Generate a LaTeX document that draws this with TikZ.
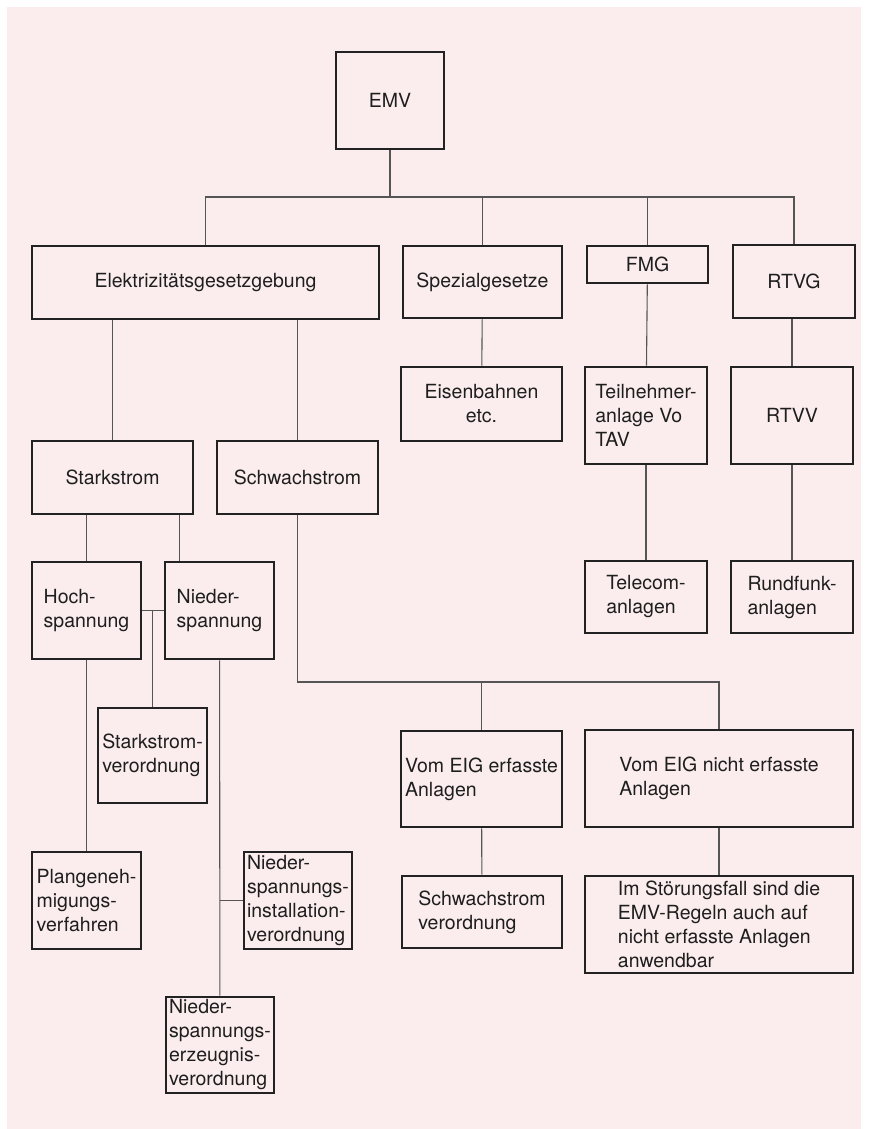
\documentclass[tikz,border=0pt]{standalone}
\usepackage{fontspec}
\setmainfont{TeX Gyre Heros}
\definecolor{boxline}{HTML}{222222}
\definecolor{linegray}{HTML}{555555}
\definecolor{txt}{HTML}{1E1E1E}
\definecolor{paper}{HTML}{FBEDED}

\begin{document}
\begin{tikzpicture}[x=1pt, y=-1pt]
			\tikzset{block/.style={draw=boxline, line width=2.6pt, rectangle, align=center, inner sep=0pt, text=txt, font=\fontsize{19.5}{24}\selectfont},
        lblock/.style={block, align=left},
        wh/.style 2 args={minimum width=#1pt, minimum height=#2pt},
        conn/.style={draw=linegray, line width=1.1pt},
        }

			\useasboundingbox (0,0) rectangle (869,1129);
			\fill[paper] (7,7) rectangle (861,1129);

			% top level
			\node [block, wh={108}{97}] (emv) at (390,100.5) {EMV};
			\node [block, wh={347}{73}] (elektr) at (205.5,282.5) {Elektrizitätsgesetzgebung};
			\node [block, wh={159}{72}] (spezial) at (482.5,282) {Spezialgesetze};
			\node [block, wh={121}{37}] (fmg) at (647.5,264.5) {FMG};
			\node [block, wh={122}{73}] (rtvg) at (794,281.5) {RTVG};

			% second row, right side
			\node [block, wh={161}{74}] (eisenbahn) at (481.5,404) {Eisenbahnen\\etc.};
			\node [lblock, wh={122}{97}] (teilnehmer) at (646,415.5) {Teilnehmer-\\anlage Vo\\TAV};
			\node [block, wh={122}{97}] (rtvv) at (792,415.5) {RTVV};
			\node [lblock, wh={122}{72}] (telecom) at (646,597) {Telecom-\\anlagen};
			\node [lblock, wh={122}{72}] (rundfunk) at (792,597) {Rundfunk-\\anlagen};

			% Elektrizitaet
			\node [block, wh={161}{73}] (stark) at (112.5,477.5) {Starkstrom};
			\node [block, wh={161}{73}] (schwach) at (297.5,477.5) {Schwachstrom};
			\node [lblock, wh={109}{97}] (hoch) at (86.5,610.5) {Hoch-\\spannung};
			\node [lblock, wh={109}{97}] (nieder) at (219.5,610.5) {Nieder-\\spannung};
			\node [lblock, wh={109}{95}] (skv) at (152.5,755.5) {Starkstrom-\\verordnung};
			\node [lblock, wh={109}{97}] (plan) at (86.5,900.5) {Plangeneh-\\migungs-\\verfahren};
			\node [lblock, wh={108}{97}] (nsiv) at (298,900.5) {Nieder-\\spannungs-\\installation-\\verordnung};
			\node [lblock, wh={108}{96}] (nsev) at (220,1045) {Nieder-\\spannungs-\\erzeugnis-\\verordnung};

			% Schwachstrom
			\node [lblock, wh={161}{96}] (vom) at (481.5,779) {Vom EIG erfasste\\Anlagen};
			\node [lblock, wh={268}{97}] (nicht) at (719,778.5) {Vom EIG nicht erfasste\\Anlagen};
			\node [lblock, wh={160}{72}] (swv) at (482,912) {Schwachstrom\\verordnung};
			\node [lblock, wh={268}{97}] (stoer) at (719,924.5) {Im Störungsfall sind die\\EMV-Regeln auch auf\\nicht erfasste Anlagen\\anwendbar};

			\coordinate (bus) at (390,197);
			\coordinate (sbus) at (297.5,682);

			\path[conn] (emv.south) -- (bus) -| (elektr.north);
			\path[conn] (bus) -| (spezial.north);
			\path[conn] (bus) -| (fmg.north);
			\path[conn] (bus) -| (rtvg.north);

			\path[conn] (spezial) edge (eisenbahn);
			\path[conn] (fmg) edge (teilnehmer);
			\path[conn] (rtvv.north |- rtvg.south) -- (rtvv.north);
			\path[conn] (teilnehmer) edge (telecom);
			\path[conn] (rtvv) edge (rundfunk);

			\path[conn] (stark.north |- elektr.south) -- (stark.north);
			\path[conn] (schwach.north |- elektr.south) -- (schwach.north);
			\path[conn] (hoch.north |- stark.south) -- (hoch.north);
			\path[conn] ([xshift=16pt]nieder.north west |- stark.south) -- ([xshift=16pt]nieder.north west);
			\path[conn] (hoch.east) -- (nieder.west);
			\path[conn] (hoch.east -| skv.north) -- (skv.north);
			\path[conn] (hoch) edge (plan);
			\path[conn] (nieder) edge (nsev);
			\path[conn] (nsiv.west -| nieder.south) -- (nsiv.west);

			\path[conn] (schwach.south) -- (sbus) -| (nicht.north);
			\path[conn] (sbus -| vom.north) -- (vom.north);
			\path[conn] (vom) edge (swv);
			\path[conn] (nicht) edge (stoer);

		\end{tikzpicture}
\end{document}
